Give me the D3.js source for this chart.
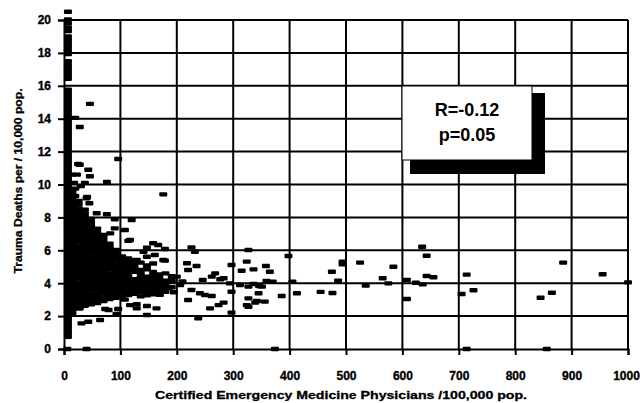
<!DOCTYPE html>
<html>
<head>
<meta charset="utf-8">
<script src="https://cdn.jsdelivr.net/npm/d3@7"></script>
<style>
  html, body { margin: 0; padding: 0; background: #fff; }
  svg { display: block; }
  text { font-family: "Liberation Sans", Arial, sans-serif; font-weight: bold; fill: #000; }
</style>
</head>
<body>
<svg id="chart" width="640" height="403"></svg>
<script>
// ---------------- DATA ----------------
const xTicks = [0, 100, 200, 300, 400, 500, 600, 700, 800, 900, 1000];
const yTicks = [0, 2, 4, 6, 8, 10, 12, 14, 16, 18, 20];
const xTitle = "Certified Emergency Medicine Physicians /100,000 pop.";
const yTitle = "Trauma Deaths per / 10,000 pop.";
const statR = "R=-0.12";
const statP = "p=0.05";

// counties with (almost) no emergency physicians: [x, [y values]]
const leftColumn = [
  [7, [0.74,0.95,1.15,1.37,1.58,1.8,2.01,2.22,2.44,2.66,2.87,3.08,3.3,3.51,3.73,3.94,4.16,4.37,4.59,4.8,5.02,5.23,5.45,5.66,5.88,6.09,6.31,6.52,6.74,6.95,7.17,7.38,7.6,7.81,8.03,8.24,8.46,8.67,8.89,9.1,9.32,9.53,9.75,9.96,10.18,10.39,10.61,10.82,11.04,11.25,11.47,11.68,11.9,12.11,12.33,12.54,12.76,12.97,13.19,13.4,13.62,13.83,14.05,14.26,14.48,14.69,14.91,15.12,15.34,15.55,15.77,16.42,16.63,16.85,17.06,17.28,17.5,17.93,18.15,18.36,18.58,18.8,19.0,19.33,19.55,19.8,20.04,20.5]]
];

// dense core of low-density counties: [x, [y values]]
const denseCore = [
  [15, [2.18,2.4,2.61,2.83,3.04,3.26,3.47,3.69,3.9,4.12,4.33,4.55,4.76,4.98,5.19,5.41,5.62,5.84,6.05,6.27,6.48,6.7,6.91,7.13,7.34,7.56,7.77,7.99,8.2,8.42,8.63,8.85,9.06,9.28,9.55]],
  [26, [2.48,2.7,2.93,3.15,3.38,3.6,3.83,4.05,4.28,4.5,4.73,4.95,5.18,5.4,5.63,5.85,6.08,6.3,6.53,6.75,6.98,7.2,7.43,7.65,7.88,8.1,8.33,8.55,8.78,9.0]],
  [37, [2.62,2.84,3.07,3.29,3.52,3.74,3.97,4.19,4.42,4.64,4.87,5.09,5.32,5.54,5.77,5.99,6.22,6.44,6.67,6.89,7.12,7.34,7.57,7.79,8.02,8.24,8.47]],
  [48, [2.71,2.93,3.16,3.38,3.61,3.83,4.06,4.28,4.51,4.73,4.96,5.18,5.41,5.63,5.86,6.08,6.31,6.53,6.76,6.98,7.21,7.43,7.66,7.9]],
  [59, [2.79,3.01,3.24,3.46,3.69,3.91,4.14,4.36,4.59,4.81,5.04,5.26,5.49,5.71,5.94,6.16,6.39,6.61,6.84,7.06,7.31]],
  [70, [2.92,3.14,3.37,3.59,3.82,4.04,4.27,4.49,4.72,4.94,5.17,5.39,5.62,5.84,6.07,6.29,6.52,6.74,6.93]],
  [81, [3.03,3.25,3.48,3.7,3.93,4.15,4.38,4.6,4.83,5.05,5.28,5.5,5.73,5.95,6.18,6.4]],
  [92, [3.12,3.34,3.57,3.79,4.02,4.24,4.47,4.69,4.92,5.14,5.37,5.59,5.82,6.02]],
  [103, [3.2,3.43,3.65,3.88,4.1,4.33,4.55,4.78,5.0,5.23,5.45,5.62]],
  [114, [3.28,3.5,3.73,3.95,4.18,4.4,4.63,4.85,5.08,5.3,5.5]],
  [125, [3.35,3.58,3.8,4.03,4.25,4.7,4.93,5.15,5.38]],
  [136, [3.2,3.45,3.68,3.9,4.13,4.35,4.58,4.8,5.25]],
  [147, [3.27,3.5,3.73,3.95,4.18,4.4,4.85,5.08]],
  [158, [3.33,3.55,3.78,4.0,4.23,4.45,4.68,5.2]],
  [169, [3.4,3.62,3.85,4.08,4.3,4.53]],
  [180, [3.47,3.7,3.93,4.15,4.6]],
  [191, [3.75,4.2,4.43]]
];

// individually readable counties: [x, y]
const scattered = [
  [28,13.5],[20,14.05],[46,14.9],[28,11.2],[25,11.25],[43,10.9],[46,10.5],[23,10.6],[14,10.6],[37,10.1],
  [76,10.15],[96,11.55],[20,9.3],[41,9.25],[176,9.4],[30,9.9],[18,10.1],[20,9.75],
  [40,9.16],[45,8.86],[58,8.25],[76,8.19],[90,7.88],[120,7.84],[108,7.23],[82,7.03],[117,6.63],[158,6.43],
  [90,7.33],[114,6.57],[147,6.16],[167,6.32],[141,5.91],[176,5.41],[161,5.71],[179,6.08],
  [226,6.18],[232,5.91],[179,5.37],[147,5.61],[129,5.41],[218,5.21],[235,5.05],[220,4.8],[268,4.6],
  [262,4.4],[277,4.24],[283,4.3],[200,4.4],[191,4.09],[206,3.89],[185,3.69],[170,3.69],[155,3.89],[294,3.99],
  [226,3.59],[220,2.98],[241,3.39],[262,3.22],[283,2.82],[259,2.47],[238,1.87],[274,2.67],[250,3.28],
  [129,2.72],[147,2.61],[164,2.47],[117,2.67],[129,2.47],[147,2.07],[79,2.37],[64,1.76],[31,1.56],[43,1.66],
  [28,2.47],[73,2.43],[96,2.43],[34,3.1],[93,2.13],[108,3.0],[170,3.3],[195,3.45],[210,4.1],[246,4.2],
  [297,5.11],[324,5.31],[327,6.02],[315,4.76],[336,4.84],[358,5.05],[365,4.7],[398,5.65],
  [297,3.48],[297,2.21],[327,3.08],[339,2.82],[324,2.67],[345,3.39],[386,3.22],[327,3.79],[351,3.79],
  [312,3.89],[336,3.95],[346,3.83],[359,4.13],[370,4.09],[342,2.92],[356,2.88],[327,2.57],
  [405,4.09],[413,3.39],[455,3.47],[476,3.4],[475,4.7],[494,5.15],[494,5.3],[486,4.15],[525,5.25],
  [584,5.0],[565,4.3],[575,3.99],[535,3.85],[608,4.19],[608,3.04],
  [635,6.22],[643,5.67],[643,4.44],[655,4.36],[624,4.03],[636,3.93],[714,4.52],[705,3.34],[726,3.57],
  [885,5.25],[955,4.54],[1000,4.05],[845,3.12],[865,3.42],
  [6,0],[40,0],[374,0],[714,0],[856,0]
];

// ---------------- CHART ----------------
const svg = d3.select("#chart");
const x = d3.scaleLinear().domain([0, 1000]).range([64, 628]);
const y = d3.scaleLinear().domain([0, 20]).range([349, 20]);

const points = [];
leftColumn.concat(denseCore).forEach(([xv, ys]) => ys.forEach(yv => points.push([xv, yv])));
scattered.forEach(p => points.push(p));

// grid
const grid = svg.append("g");
grid.selectAll("line.v").data(xTicks.slice(1)).join("line")
  .attr("x1", d => x(d)).attr("x2", d => x(d))
  .attr("y1", y(20)).attr("y2", y(0))
  .attr("stroke", "#000").attr("stroke-width", 2);
grid.selectAll("line.h").data(yTicks.slice(1)).join("line")
  .attr("x1", x(0)).attr("x2", x(1000))
  .attr("y1", d => y(d)).attr("y2", d => y(d))
  .attr("stroke", "#000").attr("stroke-width", 2);

// axes
const yAxis = svg.append("g").attr("transform", `translate(${x(0)},0)`)
  .call(d3.axisLeft(y).tickValues(yTicks).tickSize(6).tickPadding(7).tickFormat(d3.format("d")));
const xAxis = svg.append("g").attr("transform", `translate(0,${y(0)})`)
  .call(d3.axisBottom(x).tickValues(xTicks).tickSize(6).tickPadding(16).tickFormat(d3.format("d")));
[yAxis, xAxis].forEach(g => {
  g.select(".domain").attr("stroke", "#000").attr("stroke-width", 2);
  g.selectAll(".tick line").attr("stroke", "#000").attr("stroke-width", 2);
  g.selectAll(".tick text").attr("font-size", 12).attr("font-weight", "bold")
    .attr("font-family", "Liberation Sans, Arial, sans-serif").attr("fill", "#000")
    .attr("stroke", "#000").attr("stroke-width", 0.35);
});
xAxis.selectAll(".tick text").filter(d => d === 1000).attr("dx", -2);

// markers
svg.append("g").selectAll("rect").data(points).join("rect")
  .attr("x", d => x(d[0]) - 4).attr("y", d => y(d[1]) - 2.2)
  .attr("width", 8).attr("height", 4.4).attr("rx", 1)
  .attr("fill", "#000");

// stats box
svg.append("rect").attr("x", 410).attr("y", 93).attr("width", 135).attr("height", 81).attr("fill", "#000");
svg.append("rect").attr("x", 402).attr("y", 86).attr("width", 130).attr("height", 74)
  .attr("fill", "#fff").attr("stroke", "#000").attr("stroke-width", 1);
svg.append("text").attr("x", 467).attr("y", 116).attr("text-anchor", "middle")
  .attr("font-size", 18).text(statR);
svg.append("text").attr("x", 467).attr("y", 141).attr("text-anchor", "middle")
  .attr("font-size", 18).text(statP);

// titles
svg.append("text").attr("x", 341).attr("y", 399).attr("text-anchor", "middle")
  .attr("font-size", 11).attr("textLength", 372).attr("lengthAdjust", "spacingAndGlyphs")
  .attr("stroke", "#000").attr("stroke-width", 0.3)
  .text(xTitle);
svg.append("text").attr("transform", "translate(22,181) rotate(-90)").attr("text-anchor", "middle")
  .attr("font-size", 11).attr("textLength", 185).attr("lengthAdjust", "spacingAndGlyphs")
  .attr("stroke", "#000").attr("stroke-width", 0.3)
  .text(yTitle);
</script>
</body>
</html>
